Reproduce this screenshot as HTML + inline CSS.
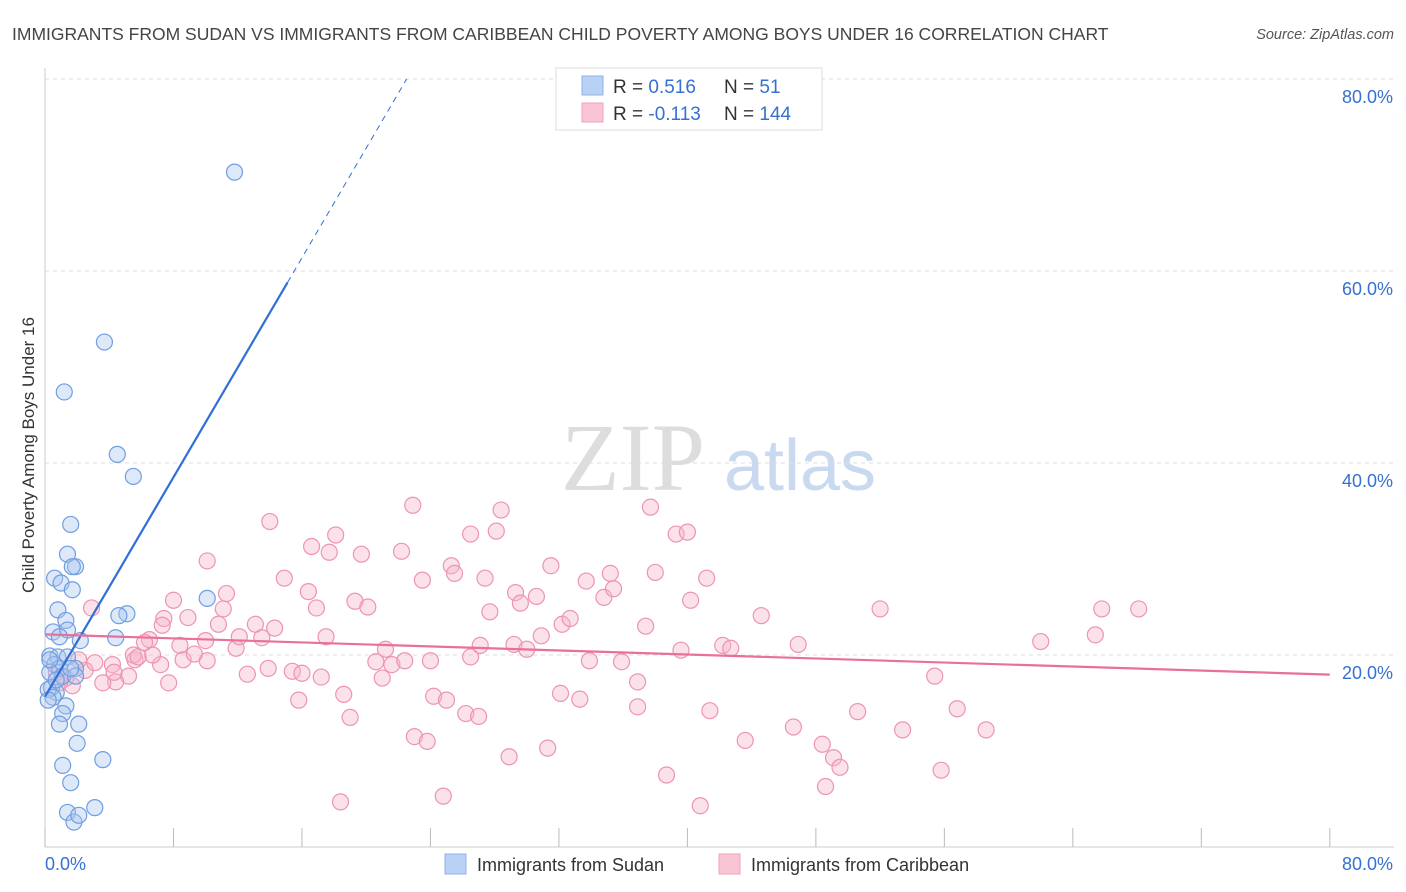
<!DOCTYPE html>
<html><head><meta charset="utf-8"><style>
body{margin:0;background:#fff;font-family:"Liberation Sans",sans-serif;}
svg{display:block}
</style></head><body>
<svg id="chart" width="1406" height="892" xmlns="http://www.w3.org/2000/svg">
<text x="12" y="40" font-size="17.5" fill="#444">IMMIGRANTS FROM SUDAN VS IMMIGRANTS FROM CARIBBEAN CHILD POVERTY AMONG BOYS UNDER 16 CORRELATION CHART</text>
<text x="1394" y="39" font-size="14.5" fill="#555" font-style="italic" text-anchor="end">Source: ZipAtlas.com</text>
<text transform="translate(34,455) rotate(-90)" font-size="17" fill="#333" text-anchor="middle">Child Poverty Among Boys Under 16</text>
<g>
<text x="633" y="490" font-size="96" fill="#ddd" font-family="Liberation Serif,serif" text-anchor="middle">ZIP</text>
<text x="800" y="490" font-size="72" fill="#c8d9f0" text-anchor="middle">atlas</text>
</g>
<g id="grid"></g><g id="axes"></g><g id="pts"></g><g id="lines"></g>
<g>
<rect x="556" y="68" width="266" height="62" fill="#fff" stroke="#ddd"/>
<rect x="582" y="76" width="21" height="19" fill="#b8d1f5" stroke="#8fb2e6"/>
<rect x="582" y="103" width="21" height="19" fill="#f9c5d5" stroke="#f0a2bb"/>
<text x="613" y="93" font-size="19" fill="#333">R = <tspan fill="#3670d0"> 0.516</tspan></text>
<text x="724" y="93" font-size="19" fill="#333">N = <tspan fill="#3670d0">   51</tspan></text>
<text x="613" y="120" font-size="19" fill="#333">R = <tspan fill="#3670d0">-0.113</tspan></text>
<text x="724" y="120" font-size="19" fill="#333">N = <tspan fill="#3670d0">144</tspan></text>
</g>
<g>
<rect x="445" y="854" width="21" height="20" fill="#b8d1f5" stroke="#8fb2e6"/>
<text x="477" y="871" font-size="18" fill="#333">Immigrants from Sudan</text>
<rect x="719" y="854" width="21" height="20" fill="#f9c5d5" stroke="#f0a2bb"/>
<text x="751" y="871" font-size="18" fill="#333">Immigrants from Caribbean</text>
</g>
</svg>
<script>
const sudanX=[11.8,3.7,1.2,4.5,5.5,1.6,1.4,1.9,1.7,0.6,1.0,1.7,10.1,5.1,4.6,0.8,1.3,0.5,1.4,0.9,4.4,2.2,0.3,0.8,1.4,0.6,0.9,1.9,0.3,1.1,1.9,0.4,0.7,0.2,0.5,0.2,1.3,1.1,2.1,0.9,2.0,3.6,1.1,1.6,3.1,1.4,1.8,2.1,0.3,0.7,1.6];
const sudanY=[70.3,52.6,47.4,40.9,38.6,33.6,30.5,29.2,29.2,28.0,27.5,26.8,25.9,24.3,24.1,24.7,23.6,22.4,22.6,21.9,21.8,21.5,19.9,19.8,19.8,19.0,18.6,18.6,18.2,17.8,17.8,16.6,16.1,16.4,15.6,15.3,14.7,13.9,12.8,12.8,10.8,9.1,8.5,6.7,4.1,3.6,2.6,3.3,19.5,17.4,18.6];
const caribX=[2.9,8.0,7.4,6.5,10.1,14.0,16.6,18.1,17.7,19.7,22.2,22.9,23.5,25.3,25.5,26.5,28.4,28.1,27.4,29.3,29.6,30.6,31.5,33.7,34.8,35.2,35.4,37.7,38.0,39.3,40.0,41.2,40.2,44.6,52.0,65.8,68.1,65.4,62.0,14.9,16.4,16.9,19.3,20.1,27.7,32.2,32.7,29.2,30.9,11.3,11.1,10.8,8.9,7.3,6.2,8.4,10.0,11.9,13.1,13.5,14.3,17.5,21.2,26.5,27.1,30.0,33.9,35.9,37.4,39.6,42.2,42.7,46.9,55.4,8.6,7.2,5.2,4.4,5.6,4.2,3.6,1.7,0.7,1.3,2.5,2.1,3.1,5.5,6.7,5.8,10.1,12.6,13.9,15.4,16.0,17.2,18.6,19.0,20.6,21.0,21.6,22.4,24.0,24.2,25.0,26.2,27.0,32.1,33.3,36.9,36.9,41.4,46.6,50.6,53.4,56.8,58.6,43.6,48.4,49.1,49.5,38.7,40.8,28.9,31.3,23.0,23.8,24.8,18.4,55.8,48.6,7.7,9.3,12.1,15.8,4.3,0.9];
const caribY=[24.9,25.7,23.8,21.6,29.8,33.9,31.3,32.5,30.7,30.5,30.8,35.6,27.8,29.3,28.5,32.6,35.1,32.9,28.0,26.5,25.4,26.1,29.3,27.7,26.0,28.5,26.9,35.4,28.6,32.6,32.8,28.0,25.7,24.1,24.8,24.8,24.8,22.1,21.4,28.0,26.6,24.9,25.6,25.0,24.5,23.2,23.8,21.1,22.0,26.4,24.8,23.2,23.9,23.1,21.3,21.0,21.5,20.7,23.2,21.8,22.8,21.9,20.6,19.8,21.0,20.6,19.4,19.3,23.0,20.5,21.0,20.7,21.1,17.8,19.5,19.0,17.8,17.2,19.5,19.0,17.1,16.8,18.2,17.6,18.4,19.5,19.2,20.0,20.0,19.8,19.4,18.0,18.6,18.3,18.1,17.7,15.9,13.5,19.3,17.6,19.0,19.4,19.4,15.7,15.3,13.9,13.6,16.0,15.4,17.2,14.6,14.2,12.5,14.1,12.2,14.4,12.2,11.1,10.7,9.3,8.3,7.5,4.3,9.4,10.3,11.5,11.0,5.3,4.7,8.0,6.3,17.1,20.1,21.9,15.3,18.2,17.1];
const yTicks=[20,40,60,80];
const xTicks=[0,8,16,24,32,40,48,56,64,72,80];
const NS="http://www.w3.org/2000/svg";
const sx=v=>45+v*16.06, sy=v=>847-v*9.6;
function mk(tag,attrs,parent){const e=document.createElementNS(NS,tag);for(const k in attrs)e.setAttribute(k,attrs[k]);parent.appendChild(e);return e;}
const grid=document.getElementById('grid'),axes=document.getElementById('axes'),pts=document.getElementById('pts'),lines=document.getElementById('lines');
yTicks.forEach(t=>{
 const l=mk('line',{x1:45,x2:1394,y1:sy(t),y2:sy(t),stroke:'#ddd','stroke-dasharray':'4,4'},grid);
 
 
 const tx=mk('text',{x:1393,y:sy(t)+24,'font-size':18,fill:'#3670d0','text-anchor':'end'},axes);
 tx.textContent=t.toFixed(1)+'%';
 
 
});
const xa=mk('line',{x1:45,x2:1394,y1:847,y2:847,stroke:'#ccc'},axes);


const ya=mk('line',{x1:45,x2:45,y1:68,y2:847,stroke:'#ccc'},axes);


xTicks.forEach(t=>{
 const l=mk('line',{x1:sx(t),x2:sx(t),y1:828,y2:847,stroke:'#bbb'},axes);
 
 
});
[[0,45,'start'],[80,1393,'end']].forEach(([v,x,a])=>{
 const tx=mk('text',{x:x,y:870,'font-size':18,fill:'#3670d0','text-anchor':a},axes);
 tx.textContent=v.toFixed(1)+'%';
 
 
});
function scatter(X,Y,fill,stroke,name){X.forEach((x,i)=>{
 const c=mk('circle',{cx:sx(x),cy:sy(Y[i]),r:8,fill:fill,'fill-opacity':0.4,stroke:stroke,'stroke-width':1.2},pts);
 
 
});}
scatter(caribX,caribY,'#f6b3c8','#ee94b1','point-caribbean');
scatter(sudanX,sudanY,'#a9c6f0','#6f9ee0','point-sudan');
function fit(X,Y){const n=X.length;let mx=0,my=0;X.forEach((x,i)=>{mx+=x;my+=Y[i];});mx/=n;my/=n;let sxy=0,sxx=0;X.forEach((x,i)=>{sxy+=(x-mx)*(Y[i]-my);sxx+=(x-mx)*(x-mx);});const b=sxy/sxx;return [my-b*mx,b];}
const [ba,bb]=fit(sudanX,sudanY);
const xEnd=Math.max(...sudanX)*1.28;
const xTop=(80-ba)/bb;
let l1=mk('line',{x1:sx(0),y1:sy(ba),x2:sx(xEnd),y2:sy(ba+bb*xEnd),stroke:'#2f6fd6','stroke-width':2.2},lines);


let l2=mk('line',{x1:sx(xEnd),y1:sy(ba+bb*xEnd),x2:sx(xTop),y2:sy(80),stroke:'#2f6fd6','stroke-width':1,'stroke-dasharray':'6,5'},lines);


const [pa,pb]=fit(caribX,caribY);
let l3=mk('line',{x1:sx(0),y1:sy(pa),x2:sx(80),y2:sy(pa+pb*80),stroke:'#e8709a','stroke-width':2.2},lines);


</script>
</body></html>
